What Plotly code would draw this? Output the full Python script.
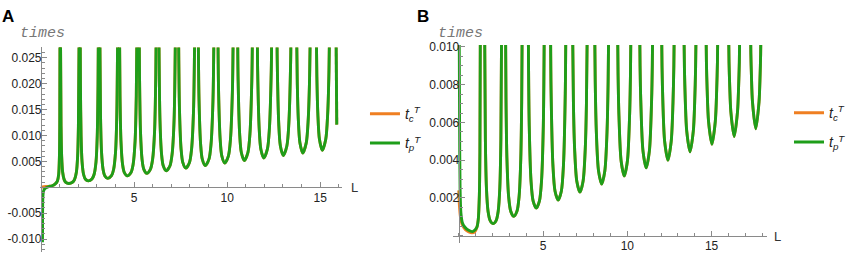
import plotly.graph_objects as go

# ---------------- Panel A data (L vs times) ----------------
a_start_L_tp = [0.08, 0.085, 0.10, 0.14, 0.22, 0.40, 0.60, 0.75, 0.88, 0.95, 0.99, 1.01, 1.02]
a_start_tp = [-0.0106, -0.006, -0.002, -0.0007, -0.0002, 0.0001, 0.0003, 0.0006, 0.0012, 0.0025, 0.006, 0.013, 0.028]
a_start_L_tc = [0.0, 0.15, 0.30, 0.50, 0.60, 0.75, 0.88, 0.95, 0.99, 1.01, 1.02]
a_start_tc = [0.0, 0.0001, 0.00015, 0.0002, 0.0003, 0.0006, 0.0012, 0.0025, 0.006, 0.013, 0.028]

a_seg_L = [
    [1.050, 1.077, 1.111, 1.162, 1.244, 1.333, 1.490, 1.688, 1.800, 1.903, 1.967, 2.010, 2.045],
    [2.108, 2.120, 2.154, 2.206, 2.289, 2.379, 2.538, 2.738, 2.851, 2.956, 3.021, 3.064, 3.079],
    [3.165, 3.199, 3.251, 3.335, 3.425, 3.586, 3.787, 3.901, 4.006, 4.071, 4.114],
    [4.223, 4.245, 4.297, 4.382, 4.473, 4.634, 4.835, 4.949, 5.054, 5.120, 5.148],
    [5.280, 5.293, 5.345, 5.429, 5.520, 5.682, 5.883, 5.997, 6.102, 6.167, 6.183],
    [6.338, 6.393, 6.477, 6.568, 6.730, 6.930, 7.044, 7.148, 7.217],
    [7.395, 7.442, 7.526, 7.617, 7.778, 7.977, 8.090, 8.194, 8.252],
    [8.453, 8.491, 8.575, 8.665, 8.826, 9.024, 9.136, 9.239, 9.286],
    [9.510, 9.540, 9.624, 9.714, 9.874, 10.070, 10.181, 10.284, 10.321],
    [10.568, 10.590, 10.673, 10.763, 10.922, 11.116, 11.226, 11.327, 11.355],
    [11.625, 11.640, 11.723, 11.812, 11.970, 12.162, 12.271, 12.371, 12.390],
    [12.683, 12.691, 12.773, 12.861, 13.018, 13.208, 13.315, 13.414, 13.424],
    [13.740, 13.770, 13.823, 13.910, 14.066, 14.253, 14.359, 14.422, 14.459],
    [14.798, 14.821, 14.873, 14.960, 15.114, 15.298, 15.403, 15.465, 15.493],
    [15.855, 15.890],
]
a_seg_val = [
    [0.028, 0.01184, 0.00592, 0.00296, 0.00148, 0.00096, 0.00074, 0.00096, 0.00148, 0.00296, 0.00592, 0.01184, 0.028],
    [0.028, 0.01968, 0.00984, 0.00492, 0.00246, 0.0016, 0.00123, 0.0016, 0.00246, 0.00492, 0.00984, 0.01968, 0.028],
    [0.028, 0.01376, 0.00688, 0.00344, 0.00224, 0.00172, 0.00224, 0.00344, 0.00688, 0.01376, 0.028],
    [0.028, 0.01768, 0.00884, 0.00442, 0.00287, 0.00221, 0.00287, 0.00442, 0.00884, 0.01768, 0.028],
    [0.028, 0.0216, 0.0108, 0.0054, 0.00351, 0.0027, 0.00351, 0.0054, 0.0108, 0.0216, 0.028],
    [0.028, 0.0128, 0.0064, 0.00416, 0.0032, 0.00416, 0.0064, 0.0128, 0.028],
    [0.028, 0.01476, 0.00738, 0.0048, 0.00369, 0.0048, 0.00738, 0.01476, 0.028],
    [0.028, 0.01672, 0.00836, 0.00543, 0.00418, 0.00543, 0.00836, 0.01672, 0.028],
    [0.028, 0.01868, 0.00934, 0.00607, 0.00467, 0.00607, 0.00934, 0.01868, 0.028],
    [0.028, 0.02064, 0.01032, 0.00671, 0.00516, 0.00671, 0.01032, 0.02064, 0.028],
    [0.028, 0.0226, 0.0113, 0.00735, 0.00565, 0.00735, 0.0113, 0.0226, 0.028],
    [0.028, 0.02456, 0.01228, 0.00798, 0.00614, 0.00798, 0.01228, 0.02456, 0.028],
    [0.028, 0.01989, 0.01326, 0.00862, 0.00663, 0.00862, 0.01326, 0.01989, 0.028],
    [0.028, 0.02136, 0.01424, 0.00926, 0.00712, 0.00926, 0.01424, 0.02136, 0.028],
    [0.028, 0.0121],
]

# ---------------- Panel B data ----------------
b_start_L_tp = [0.03, 0.05, 0.08, 0.13, 0.22, 0.37, 0.56, 0.82, 1.07, 1.16, 1.225, 1.256, 1.28]
b_start_tp = [0.0105, 0.006, 0.0025, 0.0012, 0.00068, 0.00045, 0.0003, 0.00022, 0.00044, 0.00088, 0.0022, 0.0044, 0.0105]
b_start_L_tc = [0.0, 0.04, 0.10, 0.20, 0.40, 0.60, 0.78, 0.95, 1.07, 1.16, 1.225, 1.256, 1.28]
b_start_tc = [0.0024, 0.0016, 0.001, 0.0006, 0.00032, 0.0002, 0.00015, 0.0002, 0.00042, 0.00088, 0.0022, 0.0044, 0.0105]

b_seg_L = [
    [1.54, 1.58, 1.642, 1.741, 1.864, 2.04, 2.216, 2.339, 2.438, 2.50, 2.54],
    [2.78, 2.804, 2.858, 2.961, 3.087, 3.27, 3.453, 3.579, 3.682, 3.736, 3.76],
    [4.13, 4.182, 4.287, 4.415, 4.6, 4.785, 4.913, 5.018, 5.07],
    [5.45, 5.48, 5.585, 5.714, 5.9, 6.086, 6.215, 6.32, 6.35],
    [6.76, 6.806, 6.874, 7.004, 7.19, 7.376, 7.506, 7.574, 7.62],
    [8.07, 8.096, 8.164, 8.294, 8.48, 8.666, 8.796, 8.864, 8.89],
    [9.43, 9.452, 9.505, 9.634, 9.82, 10.006, 10.135, 10.188, 10.21],
    [10.74, 10.757, 10.798, 10.93, 11.12, 11.31, 11.442, 11.483, 11.50],
    [12.04, 12.059, 12.112, 12.216, 12.41, 12.604, 12.708, 12.761, 12.78],
    [13.365, 13.389, 13.442, 13.524, 13.72, 13.916, 13.998, 14.051, 14.075],
    [14.675, 14.693, 14.736, 14.82, 15.02, 15.22, 15.304, 15.347, 15.365],
    [16.015, 16.034, 16.077, 16.142, 16.34, 16.538, 16.603, 16.646, 16.665],
    [17.32, 17.329, 17.363, 17.426, 17.62, 17.814, 17.877, 17.911, 17.92],
]
b_seg_val = [
    [0.0105, 0.00512, 0.00256, 0.00128, 0.0008, 0.00064, 0.0008, 0.00128, 0.00256, 0.00512, 0.0105],
    [0.0105, 0.00721, 0.00412, 0.00206, 0.00129, 0.00103, 0.00129, 0.00206, 0.00412, 0.00721, 0.0105],
    [0.0105, 0.00584, 0.00292, 0.00183, 0.00146, 0.00183, 0.00292, 0.00584, 0.0105],
    [0.0105, 0.00756, 0.00378, 0.00236, 0.00189, 0.00236, 0.00378, 0.00756, 0.0105],
    [0.0105, 0.00693, 0.00462, 0.00289, 0.00231, 0.00289, 0.00462, 0.00693, 0.0105],
    [0.0105, 0.00822, 0.00548, 0.00343, 0.00274, 0.00343, 0.00548, 0.00822, 0.0105],
    [0.0105, 0.00856, 0.00634, 0.00396, 0.00317, 0.00396, 0.00634, 0.00856, 0.0105],
    [0.0105, 0.009, 0.0072, 0.0045, 0.0036, 0.0045, 0.0072, 0.009, 0.0105],
    [0.0105, 0.009, 0.007, 0.005, 0.004, 0.005, 0.007, 0.009, 0.0105],
    [0.0105, 0.00888, 0.0071, 0.00555, 0.00444, 0.00555, 0.0071, 0.00888, 0.0105],
    [0.0105, 0.00922, 0.00776, 0.00606, 0.00485, 0.00606, 0.00776, 0.00922, 0.0105],
    [0.0105, 0.00921, 0.00789, 0.00658, 0.00526, 0.00658, 0.00789, 0.00921, 0.0105],
    [0.0105, 0.00964, 0.0085, 0.00709, 0.00567, 0.00709, 0.0085, 0.00964, 0.0105],
]

# tick labels
a_xticks = [5, 10, 15]
a_yticks = [-0.010, -0.005, 0.005, 0.010, 0.015, 0.020, 0.025]
b_xticks = [5, 10, 15]
b_yticks = [0.002, 0.004, 0.006, 0.008, 0.010]

series_names = ["<i>t</i><sub><i>c</i></sub><sup><i>T</i></sup>",
                "<i>t</i><sub><i>p</i></sub><sup><i>T</i></sup>"]
ORANGE = "#EF7F22"
GREEN = "#1E9E1A"
AXIS = "#8a8a8a"
FONT = "Liberation Sans"

W, H = 851, 257


def px(sx):  # pixel x -> paper x
    return sx / W


def py(sy):  # pixel y (from top) -> paper y
    return (H - sy) / H


def join(start_L, start_v, segs_L, segs_v):
    xs, ys = list(start_L) + [None], list(start_v) + [None]
    for sl, sv in zip(segs_L, segs_v):
        xs += list(sl) + [None]
        ys += list(sv) + [None]
    return xs, ys


fig = go.Figure()
panels = [
    ("x", "y", "legend", (a_start_L_tc, a_start_tc), (a_start_L_tp, a_start_tp), a_seg_L, a_seg_val),
    ("x2", "y2", "legend2", (b_start_L_tc, b_start_tc), (b_start_L_tp, b_start_tp), b_seg_L, b_seg_val),
]
for xa, ya, lg, tc, tp, sL, sV in panels:
    for i, (st, col) in enumerate([(tc, ORANGE), (tp, GREEN)]):
        xs, ys = join(st[0], st[1], sL, sV)
        fig.add_trace(go.Scatter(
            x=xs, y=ys, mode="lines", name=series_names[i],
            line=dict(color=col, width=2.9, shape="spline", smoothing=0.8),
            xaxis=xa, yaxis=ya, legend=lg, legendgroup=f"{lg}{i}",
            connectgaps=False, hoverinfo="skip"))

tickfont = dict(family=FONT, size=12, color="#222222")


def xax(domain, rng, pos, ticks):
    return dict(domain=domain, range=rng, anchor="free", position=pos,
                showline=True, linecolor=AXIS, linewidth=1, showgrid=False, zeroline=False,
                ticks="inside", ticklen=5, tickcolor=AXIS, tickwidth=1,
                tickmode="array", tickvals=ticks, ticktext=[str(t) for t in ticks],
                ticklabelstandoff=-1,
                minor=dict(ticks="inside", ticklen=3, tickcolor=AXIS, dtick=1, tick0=0, showgrid=False),
                tickfont=tickfont, fixedrange=True)


def yax(domain, rng, pos, ticks, minor_dt):
    return dict(domain=domain, range=rng, anchor="free", position=pos,
                showline=True, linecolor=AXIS, linewidth=1, showgrid=False, zeroline=False,
                ticks="inside", ticklen=5, tickcolor=AXIS, tickwidth=1,
                tickmode="array", tickvals=ticks, ticktext=[f"{t:.3f}" for t in ticks],
                ticklabelstandoff=-3,
                minor=dict(ticks="inside", ticklen=3, tickcolor=AXIS, dtick=minor_dt, tick0=0, showgrid=False),
                tickfont=tickfont, fixedrange=True)


fig.update_layout(
    width=W, height=H, margin=dict(l=0, r=0, t=0, b=0),
    paper_bgcolor="white", plot_bgcolor="white", showlegend=True,
    xaxis=xax([px(40.4), px(345)], [-0.05, 16.18], py(185.9), a_xticks),
    yaxis=yax([py(251.9), py(43.3)], [-0.0125, 0.027], px(41.3), a_yticks, 0.001),
    xaxis2=xax([px(457.1), px(772.9)], [-0.32, 18.26], py(235.3), b_xticks),
    yaxis2=yax([py(243.0), py(40.9)], [-0.0004, 0.0101], px(462.5), b_yticks, 0.0005),
    legend=dict(x=px(368), y=py(95), xanchor="left", yanchor="top",
                bgcolor="rgba(0,0,0,0)", font=dict(family=FONT, size=14, color="#222"),
                tracegroupgap=8, itemclick=False),
    legend2=dict(x=px(796), y=py(94), xanchor="left", yanchor="top",
                 bgcolor="rgba(0,0,0,0)", font=dict(family=FONT, size=14, color="#222"),
                 tracegroupgap=8, itemclick=False),
)

ann = [
    dict(text="<b>A</b>", x=px(8.5), y=py(11.5), font=dict(family=FONT, size=17, color="black")),
    dict(text="<b>B</b>", x=px(427), y=py(11.5), font=dict(family=FONT, size=17, color="black")),
    dict(text="<i>times</i>", x=px(43), y=py(29), font=dict(family="Liberation Mono", size=15, color="#777777")),
    dict(text="<i>times</i>", x=px(464), y=py(29), font=dict(family="Liberation Mono", size=15, color="#777777")),
    dict(text="L", x=px(357), y=py(186), font=dict(family=FONT, size=13, color="#333")),
    dict(text="L", x=px(784), y=py(236), font=dict(family=FONT, size=13, color="#333")),
]
for a in ann:
    fig.add_annotation(xref="paper", yref="paper", showarrow=False,
                       xanchor="center", yanchor="middle", **a)

# remove the browser's default 8px body margin so the figure fills the window
fig.write_html("out.html", config={"displayModeBar": False},
               post_script="document.body.style.margin='0px';")
